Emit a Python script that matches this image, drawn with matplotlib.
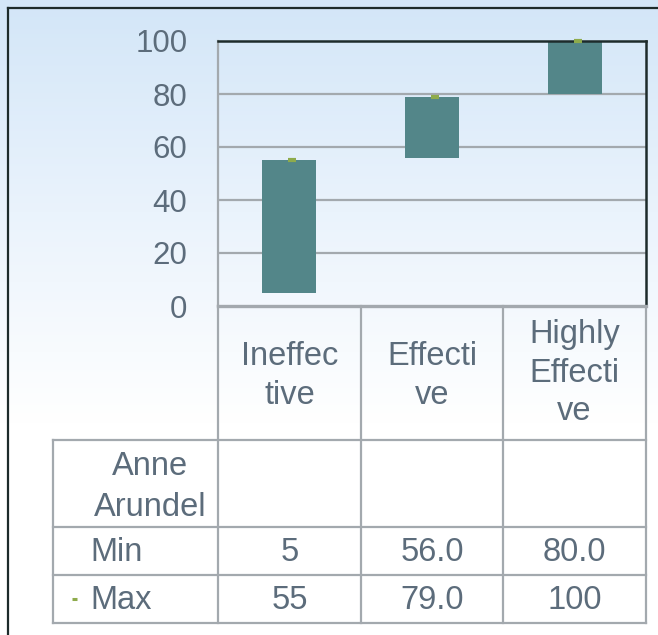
import numpy as np
import matplotlib.pyplot as plt
from matplotlib.colors import LinearSegmentedColormap

# Range per rating category
categories = ['Ineffec\ntive', 'Effecti\nve', 'Highly\nEffecti\nve']
mins = [5, 56.0, 80.0]
maxs = [55, 79.0, 100]
min_fmt = ['{:.0f}', '{:.1f}', '{:.1f}']
max_fmt = ['{:.0f}', '{:.1f}', '{:.0f}']
row_title = 'Anne\nArundel'
yticks = [0, 20, 40, 60, 80, 100]

W, H = 658, 635
TXT = '#5c6c7b'
GRID = '#a3a9ae'
BAR = '#538689'
MARK = '#8eab4c'
DARK = '#1d2b2b'
FS = 23.5
plt.rcParams['font.family'] = ['Liberation Sans', 'DejaVu Sans']

fig = plt.figure(figsize=(W / 100, H / 100), dpi=100)

# background layer in pixel coordinates
bg = fig.add_axes([0, 0, 1, 1])
bg.set_xlim(0, W)
bg.set_ylim(H, 0)
bg.axis('off')
cmap = LinearSegmentedColormap.from_list('sky', ['#d3e6f8', '#eaf3fc', '#ffffff', '#ffffff'])
grad = np.linspace(0, 1, 256).reshape(-1, 1)
bg.imshow(grad, cmap=cmap, aspect='auto', extent=[0, W, H, 0], zorder=0)

# outer frame
bg.plot([8, 8], [8, H], color=DARK, lw=1.6, zorder=2)
bg.plot([8, W], [8, 8], color=DARK, lw=1.6, zorder=2)

# table grid
cols = [218, 361, 503, 646]
for x in cols:
    bg.plot([x, x], [306, 623], color=GRID, lw=1.6, zorder=2)
for y in [440, 527, 575, 623]:
    bg.plot([53, 646], [y, y], color=GRID, lw=1.6, zorder=2)
bg.plot([53, 53], [440, 623], color=GRID, lw=1.6, zorder=2)

centers = [(cols[i] + cols[i + 1]) / 2 for i in range(3)]
line_h = 38.5
for cx, cat in zip(centers, categories):
    lines = cat.split('\n')
    top = 343 if len(lines) > 2 else 365
    for k, ln in enumerate(lines):
        bg.text(cx, top + k * line_h, ln, ha='center', va='baseline',
                fontsize=FS, color=TXT, zorder=3)

for k, ln in enumerate(row_title.split('\n')):
    bg.text(150, 475 + k * 41, ln, ha='center', va='baseline',
            fontsize=FS, color=TXT, zorder=3)

bg.text(90, 561, 'Min', ha='left', va='baseline', fontsize=FS, color=TXT, zorder=3)
bg.text(90, 609, 'Max', ha='left', va='baseline', fontsize=FS, color=TXT, zorder=3)
bg.plot([72, 77], [598.5, 598.5], color=MARK, lw=2.2, solid_capstyle='butt', zorder=3)

for cx, v, f in zip(centers, mins, min_fmt):
    bg.text(cx, 561, f.format(v), ha='center', va='baseline', fontsize=FS, color=TXT, zorder=3)
for cx, v, f in zip(centers, maxs, max_fmt):
    bg.text(cx, 609, f.format(v), ha='center', va='baseline', fontsize=FS, color=TXT, zorder=3)

# floating bars from min to max
ax = fig.add_axes([218 / W, (H - 306) / H, 428 / W, 265 / H])
ax.patch.set_alpha(0)
x = np.arange(len(categories))
heights = [b - a for a, b in zip(mins, maxs)]
ax.bar(x, heights, bottom=mins, width=0.38, color=BAR, zorder=2)
ax.plot(x + 0.02, maxs, linestyle='none', marker='_', markersize=6,
        markeredgewidth=3, color=MARK, zorder=3, clip_on=False)

ax.set_xlim(-0.5, 2.5)
ax.set_ylim(0, 100)
ax.set_yticks(yticks)
ax.set_xticks([])
ax.tick_params(axis='y', length=0, pad=22, labelsize=22.5, labelcolor=TXT)
for y in yticks[1:-1]:
    ax.axhline(y, color=GRID, lw=1.6, zorder=1)

ax.spines['top'].set_color(DARK)
ax.spines['top'].set_linewidth(1.8)
ax.spines['right'].set_color(DARK)
ax.spines['right'].set_linewidth(1.8)
ax.spines['left'].set_color(GRID)
ax.spines['left'].set_linewidth(1.6)
ax.spines['bottom'].set_color(GRID)
ax.spines['bottom'].set_linewidth(2.4)

fig.savefig('out.png', dpi=100)
